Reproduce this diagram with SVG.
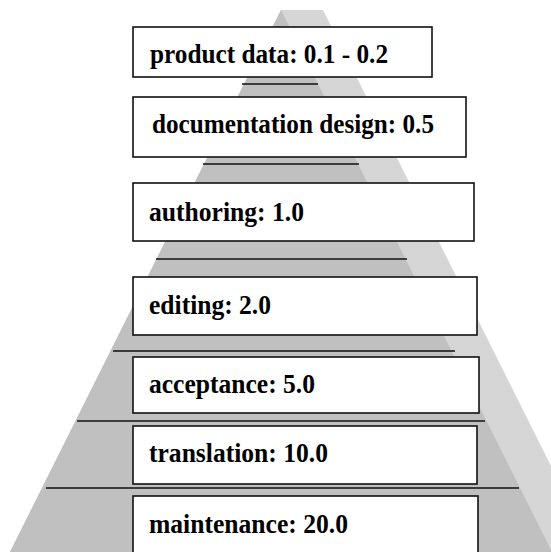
<svg xmlns="http://www.w3.org/2000/svg" width="551" height="552" viewBox="0 0 551 552">
<style>
.box rect{fill:#fff;stroke:#111;stroke-width:1.6}
.box text{font-family:"Liberation Serif","Times New Roman",serif;font-weight:bold;font-size:26.5px;fill:#000}
#dividers line{stroke:#111;stroke-width:1.6}
</style>
<rect width="551" height="552" fill="#fff"/>
<g id="pyramid">
<polygon points="281,10 323,10 594,552 10,552" fill="#d6d6d6"/>
<polygon points="281,10 552,552 10,552" fill="#c0c0c0"/>
</g>
<g id="dividers">
<line x1="242" y1="84" x2="318" y2="84"/>
<line x1="203" y1="164" x2="359" y2="164"/>
<line x1="156" y1="259" x2="407" y2="259"/>
<line x1="113" y1="351" x2="455" y2="351"/>
<line x1="77" y1="421" x2="485" y2="421"/>
<line x1="46" y1="488" x2="519" y2="488"/>
</g>
<g id="product-data" class="box"><rect x="133" y="27" width="299" height="50"/><text x="150" y="63" textLength="238" lengthAdjust="spacingAndGlyphs">product data: 0.1 - 0.2</text></g>
<g id="documentation-design" class="box"><rect x="133" y="97" width="333" height="60"/><text x="152" y="133" textLength="282" lengthAdjust="spacingAndGlyphs">documentation design: 0.5</text></g>
<g id="authoring" class="box"><rect x="133" y="183" width="341" height="58"/><text x="149" y="221" textLength="155" lengthAdjust="spacingAndGlyphs">authoring: 1.0</text></g>
<g id="editing" class="box"><rect x="133" y="277" width="344" height="58"/><text x="149" y="314" textLength="122" lengthAdjust="spacingAndGlyphs">editing: 2.0</text></g>
<g id="acceptance" class="box"><rect x="133" y="357" width="346" height="56"/><text x="149" y="393" textLength="166" lengthAdjust="spacingAndGlyphs">acceptance: 5.0</text></g>
<g id="translation" class="box"><rect x="133" y="426" width="344" height="58"/><text x="149" y="462" textLength="179" lengthAdjust="spacingAndGlyphs">translation: 10.0</text></g>
<g id="maintenance" class="box"><rect x="133" y="496" width="345" height="58"/><text x="149" y="533" textLength="199" lengthAdjust="spacingAndGlyphs">maintenance: 20.0</text></g>
</svg>
